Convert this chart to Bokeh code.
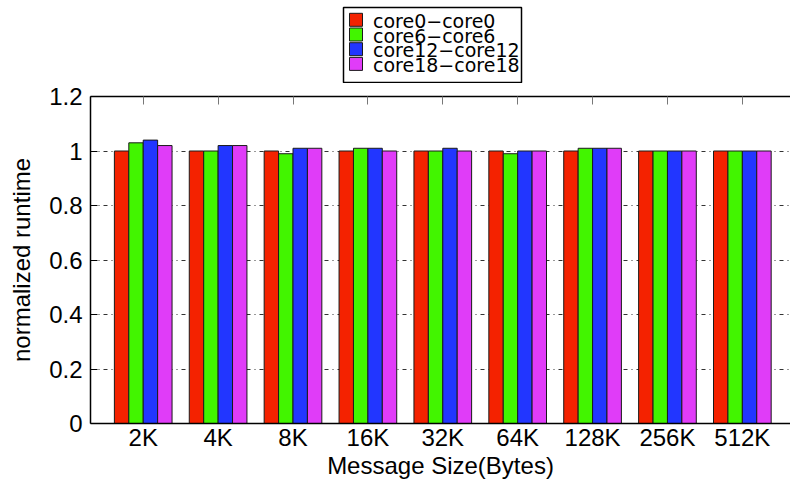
from bokeh.plotting import figure
from bokeh.layouts import column
from bokeh.models import Range1d, FixedTicker, LinearAxis, ColumnDataSource
from bokeh.transform import dodge
from bokeh.core.properties import value
from bokeh.embed import file_html
from bokeh.resources import INLINE

# ---- data ----
sizes = ["2K", "4K", "8K", "16K", "32K", "64K", "128K", "256K", "512K"]
series = ["core0\u2212core0", "core6\u2212core6", "core12\u2212core12", "core18\u2212core18"]
core0 = [1.00, 1.00, 1.00, 1.00, 1.00, 1.00, 1.00, 1.00, 1.00]
core6 = [1.03, 1.00, 0.99, 1.01, 1.00, 0.99, 1.01, 1.00, 1.00]
core12 = [1.04, 1.02, 1.01, 1.01, 1.01, 1.00, 1.01, 1.00, 1.00]
core18 = [1.02, 1.02, 1.01, 1.00, 1.00, 1.00, 1.01, 1.00, 1.00]
colors = ["#f42200", "#42f500", "#2236ff", "#e03cf8"]
y_ticks = [0, 0.2, 0.4, 0.6, 0.8, 1.0, 1.2]
y_tick_labels = ["0", "0.2", "0.4", "0.6", "0.8", "1", "1.2"]

FONT = "Liberation Sans"
W = 790
LEG_H = 83
LEFT = 90

# ---------------- legend strip (drawn above the plot) ----------------
leg = figure(width=W, height=LEG_H, x_range=Range1d(LEFT, W), y_range=Range1d(LEG_H, 0),
             output_backend="svg", toolbar_location=None, min_border=0,
             min_border_left=LEFT, min_border_right=0,
             outline_line_color=None, x_axis_location=None, y_axis_location=None)
leg.grid.visible = False
box_l, box_r, box_t, box_b = 343, 521, 7, 82
leg.quad(left=box_l, right=box_r, top=box_t, bottom=box_b,
         fill_color="white", line_color="black", line_width=1.5)
row0, pitch, sw = 19.3, 14.7, 13
ys = [row0 + pitch * i for i in range(len(series))]
sw_l = box_l + 6
leg.quad(left=[sw_l] * len(series), right=[sw_l + sw] * len(series),
         top=[y - sw / 2 for y in ys], bottom=[y + sw / 2 for y in ys],
         fill_color=colors, line_color="#1a1a1a", line_width=1)
leg.text(x=[sw_l + sw + 10.5] * len(series), y=[y + 1 for y in ys], text=series,
         text_baseline="middle", text_align="left",
         text_font=value("DejaVu Sans"), text_font_size="19px", text_color="black")

# ---------------- main plot ----------------
idx = list(range(len(sizes)))
source = ColumnDataSource(dict(idx=idx, s0=core0, s1=core6, s2=core12, s3=core18))

H = 487 - LEG_H
p = figure(width=W, height=H,
           x_range=Range1d(-0.704, 8.643), y_range=Range1d(0, 1.2),
           output_backend="svg", toolbar_location=None,
           min_border_left=LEFT, min_border_right=0, min_border_top=96 - LEG_H,
           min_border_bottom=64, outline_line_color=None)
p.xgrid.visible = False

p.ygrid.ticker = FixedTicker(ticks=y_ticks)
p.ygrid.grid_line_color = "#333333"
p.ygrid.grid_line_dash = "4 4 1 4"
p.ygrid.grid_line_width = 1

bw = 0.1925
for k, col in enumerate(["s0", "s1", "s2", "s3"]):
    p.vbar(x=dodge("idx", (k - 1.5) * bw, range=p.x_range), top=col, bottom=0,
           width=bw, source=source, fill_color=colors[k],
           line_color="#1a1a1a", line_width=1)

xa = p.xaxis[0]
xa.ticker = FixedTicker(ticks=idx)
xa.major_label_overrides = {i: s for i, s in zip(idx, sizes)}
xa.major_tick_line_color = None
xa.minor_tick_line_color = None
xa.axis_line_width = 1.5
xa.axis_line_color = "black"
xa.major_label_text_font = FONT
xa.major_label_text_font_size = "24px"
xa.major_label_text_color = "black"
xa.major_label_standoff = -6
xa.axis_label = "Message Size(Bytes)"
xa.axis_label_text_font = FONT
xa.axis_label_text_font_size = "24px"
xa.axis_label_text_font_style = "normal"
xa.axis_label_text_color = "black"
xa.axis_label_standoff = -2

ya = p.yaxis[0]
ya.ticker = FixedTicker(ticks=y_ticks)
ya.major_label_overrides = {t: l for t, l in zip(y_ticks, y_tick_labels)}
ya.major_tick_in = 7
ya.major_tick_out = 0
ya.major_tick_line_color = "black"
ya.minor_tick_line_color = None
ya.axis_line_width = 1.5
ya.axis_line_color = "black"
ya.major_label_text_font = FONT
ya.major_label_text_font_size = "24px"
ya.major_label_text_color = "black"
ya.major_label_standoff = 8
ya.axis_label = "normalized runtime"
ya.axis_label_text_font = FONT
ya.axis_label_text_font_size = "24px"
ya.axis_label_text_font_style = "normal"
ya.axis_label_text_color = "black"
ya.axis_label_standoff = 11

top = LinearAxis(ticker=FixedTicker(ticks=idx), major_label_text_font_size="0px",
                 major_label_standoff=0, major_label_overrides={i: "" for i in idx},
                 major_tick_in=8, major_tick_out=0, major_tick_line_color="#777777",
                 minor_tick_line_color=None, axis_line_width=1.5, axis_line_color="black")
p.add_layout(top, "above")

layout = column(leg, p, spacing=0)
open("out.html", "w").write(file_html(layout, INLINE))
